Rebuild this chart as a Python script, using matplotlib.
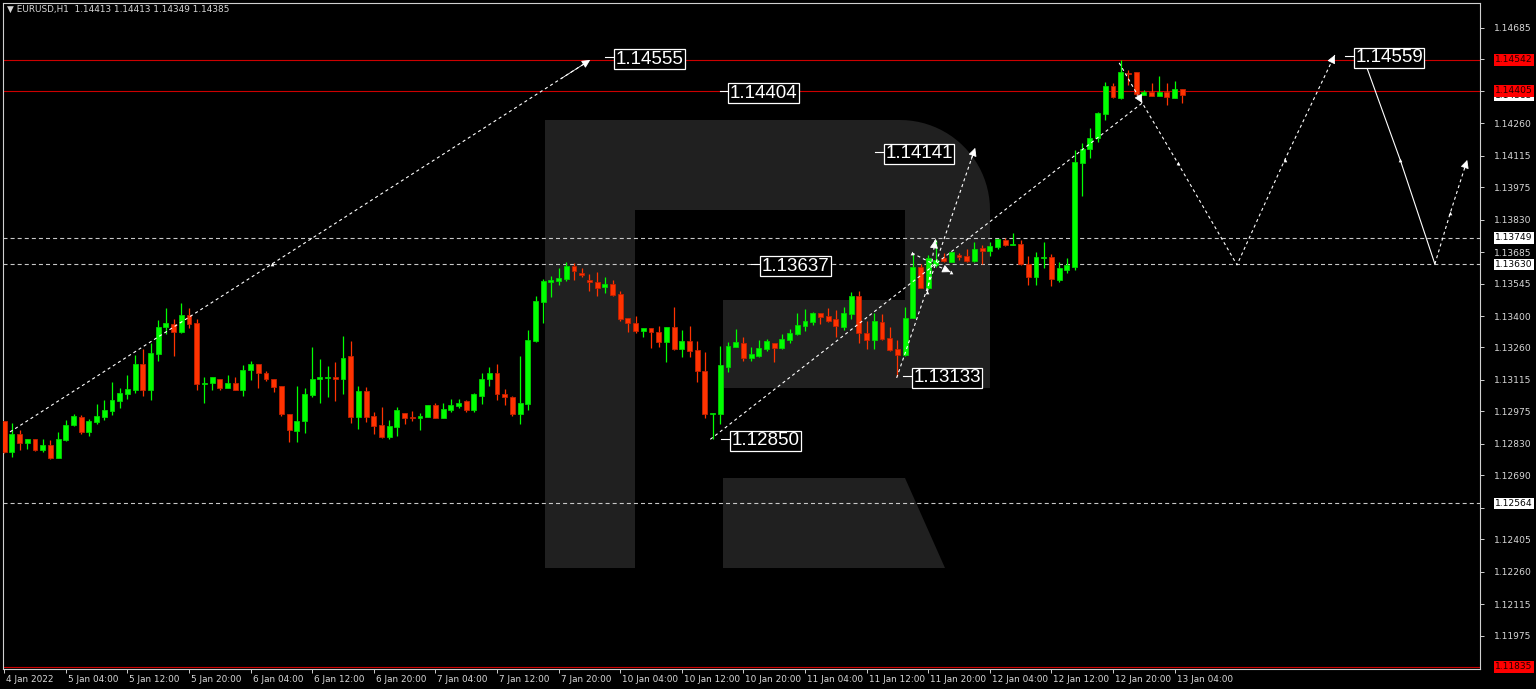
import numpy as np
import matplotlib
matplotlib.use('Agg')
import matplotlib.pyplot as plt
import matplotlib.transforms as mtransforms
from matplotlib.patches import Polygon
from matplotlib import font_manager

plt.rcParams['lines.scale_dashes'] = False

# ---------------- data (EURUSD H1) ----------------
opens = [1.12932, 1.12794, 1.12873, 1.12834, 1.12850, 1.12801, 1.12823, 1.12767, 1.12846, 1.12913,
         1.12950, 1.12883, 1.12928, 1.12950, 1.12977, 1.13022, 1.13054, 1.13072, 1.13185, 1.13072,
         1.13229, 1.13352, 1.13363, 1.13330, 1.13404, 1.13367, 1.13095, 1.13103, 1.13117, 1.13077,
         1.13103, 1.13072, 1.13159, 1.13184, 1.13144, 1.13117, 1.13087, 1.12965, 1.12887, 1.12931,
         1.13047, 1.13117, 1.13124, 1.13127, 1.13117, 1.13221, 1.12950, 1.13066, 1.12954, 1.12913,
         1.12861, 1.12905, 1.12969, 1.12950, 1.12943, 1.12950, 1.13002, 1.12947, 1.12980, 1.12998,
         1.13020, 1.12980, 1.13044, 1.13117, 1.13144, 1.13054, 1.13039, 1.12962, 1.13007, 1.13290,
         1.13464, 1.13553, 1.13558, 1.13564, 1.13621, 1.13591, 1.13561, 1.13550, 1.13528, 1.13543,
         1.13497, 1.13390, 1.13367, 1.13334, 1.13345, 1.13327, 1.13282, 1.13349, 1.13252, 1.13290,
         1.13248, 1.13156, 1.12965, 1.12962, 1.13173, 1.13263, 1.13281, 1.13214, 1.13221, 1.13251,
         1.13278, 1.13256, 1.13293, 1.13320, 1.13355, 1.13372, 1.13412, 1.13402, 1.13385, 1.13349,
         1.13408, 1.13491, 1.13326, 1.13295, 1.13374, 1.13304, 1.13255, 1.13228, 1.13392, 1.13617,
         1.13527, 1.13627, 1.13660, 1.13642, 1.13672, 1.13667, 1.13646, 1.13704, 1.13691, 1.13709,
         1.13739, 1.13716, 1.13721, 1.13631, 1.13575, 1.13660, 1.13661, 1.13560, 1.13605, 1.13619,
         1.14083, 1.14144, 1.14192, 1.14301, 1.14428, 1.14374, 1.14486, 1.14487, 1.14386, 1.14401,
         1.14383, 1.14401, 1.14374, 1.14413]
highs = [1.12932, 1.12925, 1.12890, 1.12853, 1.12853, 1.12853, 1.12849, 1.12881, 1.12938, 1.12962,
         1.12957, 1.12940, 1.13007, 1.13025, 1.13105, 1.13080, 1.13135, 1.13226, 1.13255, 1.13281,
         1.13381, 1.13436, 1.13387, 1.13458, 1.13437, 1.13387, 1.13127, 1.13126, 1.13121, 1.13135,
         1.13127, 1.13181, 1.13199, 1.13184, 1.13156, 1.13117, 1.13087, 1.12965, 1.13089, 1.13080,
         1.13264, 1.13208, 1.13179, 1.13194, 1.13311, 1.13290, 1.13089, 1.13084, 1.12972, 1.12995,
         1.12938, 1.12995, 1.12969, 1.12975, 1.12969, 1.13002, 1.13010, 1.13010, 1.13029, 1.13029,
         1.13025, 1.13057, 1.13148, 1.13171, 1.13185, 1.13074, 1.13044, 1.13221, 1.13337, 1.13489,
         1.13565, 1.13580, 1.13613, 1.13640, 1.13635, 1.13613, 1.13588, 1.13595, 1.13573, 1.13561,
         1.13513, 1.13390, 1.13401, 1.13345, 1.13345, 1.13355, 1.13352, 1.13440, 1.13337, 1.13355,
         1.13290, 1.13241, 1.12969, 1.13267, 1.13282, 1.13342, 1.13305, 1.13263, 1.13293, 1.13297,
         1.13278, 1.13320, 1.13342, 1.13412, 1.13431, 1.13416, 1.13412, 1.13436, 1.13427, 1.13439,
         1.13509, 1.13513, 1.13378, 1.13414, 1.13411, 1.13349, 1.13292, 1.13441, 1.13675, 1.13632,
         1.13672, 1.13739, 1.13679, 1.13687, 1.13679, 1.13701, 1.13728, 1.13716, 1.13728, 1.13742,
         1.13746, 1.13771, 1.13739, 1.13667, 1.13687, 1.13730, 1.13675, 1.13642, 1.13660, 1.14140,
         1.14170, 1.14237, 1.14311, 1.14442, 1.14441, 1.14542, 1.14498, 1.14490, 1.14408, 1.14438,
         1.14471, 1.14438, 1.14448, 1.14413]
lows = [1.12791, 1.12771, 1.12801, 1.12805, 1.12798, 1.12794, 1.12762, 1.12767, 1.12843, 1.12908,
        1.12876, 1.12865, 1.12920, 1.12938, 1.12959, 1.12990, 1.13032, 1.13057, 1.13042, 1.13025,
        1.13200, 1.13320, 1.13223, 1.13325, 1.13348, 1.13072, 1.13013, 1.13072, 1.13068, 1.13077,
        1.13068, 1.13042, 1.13114, 1.13077, 1.13109, 1.13062, 1.12953, 1.12838, 1.12838, 1.12878,
        1.13039, 1.13013, 1.13039, 1.13020, 1.13054, 1.12923, 1.12896, 1.12926, 1.12876, 1.12856,
        1.12852, 1.12865, 1.12920, 1.12932, 1.12890, 1.12950, 1.12943, 1.12947, 1.12972, 1.12992,
        1.12972, 1.12972, 1.13007, 1.13089, 1.13025, 1.13002, 1.12954, 1.12917, 1.12980, 1.13285,
        1.13370, 1.13483, 1.13539, 1.13558, 1.13561, 1.13576, 1.13513, 1.13489, 1.13504, 1.13489,
        1.13378, 1.13330, 1.13323, 1.13308, 1.13258, 1.13260, 1.13196, 1.13248, 1.13218, 1.13215,
        1.13106, 1.12943, 1.12850, 1.12920, 1.13151, 1.13263, 1.13199, 1.13199, 1.13215, 1.13244,
        1.13196, 1.13253, 1.13278, 1.13315, 1.13335, 1.13360, 1.13364, 1.13372, 1.13308, 1.13338,
        1.13385, 1.13278, 1.13255, 1.13252, 1.13292, 1.13243, 1.13133, 1.13220, 1.13389, 1.13523,
        1.13520, 1.13620, 1.13639, 1.13642, 1.13650, 1.13642, 1.13642, 1.13631, 1.13667, 1.13701,
        1.13713, 1.13716, 1.13627, 1.13538, 1.13538, 1.13612, 1.13533, 1.13553, 1.13590, 1.13604,
        1.13934, 1.14106, 1.14177, 1.14274, 1.14371, 1.14366, 1.14431, 1.14386, 1.14386, 1.14381,
        1.14381, 1.14341, 1.14371, 1.14349]
closes = [1.12794, 1.12876, 1.12834, 1.12853, 1.12801, 1.12823, 1.12767, 1.12850, 1.12916, 1.12954,
          1.12883, 1.12932, 1.12953, 1.12980, 1.13025, 1.13057, 1.13074, 1.13185, 1.13072, 1.13233,
          1.13349, 1.13367, 1.13330, 1.13404, 1.13366, 1.13095, 1.13103, 1.13126, 1.13081, 1.13103,
          1.13072, 1.13161, 1.13184, 1.13147, 1.13117, 1.13084, 1.12965, 1.12890, 1.12932, 1.13050,
          1.13118, 1.13126, 1.13127, 1.13117, 1.13214, 1.12950, 1.13066, 1.12950, 1.12910, 1.12861,
          1.12908, 1.12980, 1.12947, 1.12943, 1.12954, 1.13002, 1.12946, 1.12984, 1.13002, 1.13014,
          1.12980, 1.13050, 1.13118, 1.13144, 1.13054, 1.13039, 1.12962, 1.13010, 1.13293, 1.13467,
          1.13558, 1.13561, 1.13571, 1.13621, 1.13601, 1.13583, 1.13550, 1.13527, 1.13545, 1.13494,
          1.13385, 1.13367, 1.13334, 1.13345, 1.13327, 1.13282, 1.13349, 1.13255, 1.13290, 1.13245,
          1.13156, 1.12962, 1.12969, 1.13181, 1.13267, 1.13282, 1.13214, 1.13229, 1.13256, 1.13290,
          1.13256, 1.13297, 1.13326, 1.13360, 1.13378, 1.13412, 1.13397, 1.13379, 1.13355, 1.13412,
          1.13491, 1.13326, 1.13295, 1.13378, 1.13299, 1.13250, 1.13228, 1.13392, 1.13617, 1.13527,
          1.13657, 1.13650, 1.13645, 1.13684, 1.13664, 1.13646, 1.13701, 1.13691, 1.13712, 1.13742,
          1.13716, 1.13721, 1.13631, 1.13575, 1.13661, 1.13663, 1.13563, 1.13612, 1.13627, 1.14088,
          1.14147, 1.14195, 1.14304, 1.14428, 1.14375, 1.14487, 1.14480, 1.14389, 1.14401, 1.14383,
          1.14401, 1.14378, 1.14411, 1.14385]

x_tick_pos = [0, 8, 16, 24, 32, 40, 48, 56, 64, 72, 80, 88, 96, 104, 112, 120, 128, 136, 144, 152]
x_tick_labels = ['4 Jan 2022', '5 Jan 04:00', '5 Jan 12:00', '5 Jan 20:00', '6 Jan 04:00',
                 '6 Jan 12:00', '6 Jan 20:00', '7 Jan 04:00', '7 Jan 12:00', '7 Jan 20:00',
                 '10 Jan 04:00', '10 Jan 12:00', '10 Jan 20:00', '11 Jan 04:00', '11 Jan 12:00',
                 '11 Jan 20:00', '12 Jan 04:00', '12 Jan 12:00', '12 Jan 20:00', '13 Jan 04:00']
y_ticks = [1.14685, 1.14545, 1.14405, 1.14260, 1.14115, 1.13975, 1.13830, 1.13685, 1.13545,
           1.13400, 1.13260, 1.13115, 1.12975, 1.12830, 1.12690, 1.12545, 1.12405, 1.12260,
           1.12115, 1.11975]
# tick labels hidden behind the level boxes in the reference
y_hidden = [1.14545, 1.14405, 1.12545]

red_levels = [1.14542, 1.14405, 1.11835]
dotted_levels = [1.13749, 1.13630, 1.12564]
bid_price = 1.14385

# forecast paths (bar index, price)
dashed_paths = [
    ([0.75, 76.1], [1.12883, 1.14542]),
    ([91.7, 147.8, 152.4, 160.1, 166.3, 172.8], [1.12850, 1.14350, 1.14083, 1.13628, 1.14096, 1.14564]),
    ([115.9, 126.1], [1.13124, 1.14150]),
    ([144.8, 147.8], [1.14529, 1.14350]),
    ([185.8, 187.8, 190.0], [1.13632, 1.13860, 1.14096]),
    ([117.9, 120.9, 122.9], [1.13681, 1.13628, 1.13596]),
    ([119.9, 120.9], [1.13507, 1.13739]),
]
solid_paths = [
    ([176.7, 181.3, 185.8], [1.14533, 1.14096, 1.13632]),
]
marker_x = [34.8, 152.4, 166.3, 181.3, 187.8, 117.9, 122.9, 119.9, 120.9]
marker_p = [1.13630, 1.14083, 1.14096, 1.14096, 1.13860, 1.13681, 1.13596, 1.13507, 1.13739]

# price labels on chart
label_text = ['1.14555', '1.14404', '1.14141', '1.13637', '1.13133', '1.12850', '1.14559']
label_x = [79.2, 94.1, 114.3, 98.2, 117.9, 94.3, 175.3]
label_p = [1.14553, 1.14402, 1.14132, 1.13630, 1.13133, 1.12852, 1.14560]

title = '\u25BC EURUSD,H1  1.14413 1.14413 1.14349 1.14385'

# ---------------- figure ----------------
W, H = 1536, 689
fig = plt.figure(figsize=(W / 100, H / 100), dpi=100, facecolor='black')
L_, R_, T_, B_ = 3, 1480, 3, 668.5
ax = fig.add_axes([L_ / W, 1 - B_ / H, (R_ - L_) / W, (B_ - T_) / H], facecolor='black')
ax.set_xlim(-0.16, 191.66)
ax.set_ylim(1.11828, 1.14796)

# watermark (pixel coords, y down)
pix = mtransforms.Affine2D().scale(1 / W, -1 / H).translate(0, 1) + fig.transFigure
t = np.linspace(0, np.pi / 2, 24)
arc = [(900 + 90 * np.sin(a), 210 - 90 * np.cos(a)) for a in t]
outer = [(545, 120)] + arc + [(990, 388), (723, 388), (723, 300), (905, 300), (905, 210),
                              (635, 210), (635, 568), (545, 568)]
wm = '#202020'
ax.add_patch(Polygon(outer, closed=True, transform=pix, fc=wm, ec='none', zorder=0.5))
ax.add_patch(Polygon([(723, 478), (905, 478), (945, 568), (723, 568)], closed=True,
                     transform=pix, fc=wm, ec='none', zorder=0.5))

# horizontal levels
for p in red_levels:
    ax.axhline(p, color='#cc0000', lw=0.8, zorder=2)
for p in dotted_levels:
    ax.axhline(p, color='#c8c8c8', lw=0.8, dashes=(2.9, 2.2), zorder=2)

# candles
o = np.array(opens); c = np.array(closes); h = np.array(highs); l = np.array(lows)
xs = np.arange(len(o))
up = c >= o
fill = np.where(up, '#00ff00', '#ff3300')
edge = np.where(up, '#00d400', '#c42000')
ax.vlines(xs, l, h, colors=fill, lw=0.9, zorder=3)
body_lo = np.minimum(o, c)
body_h = np.maximum(np.abs(c - o), 0.00004)
ax.bar(xs, body_h, bottom=body_lo, width=0.64, color=fill, edgecolor=edge, linewidth=0.6, zorder=4)

# forecast lines
def head(xv, yv):
    x0, y0 = xv[-2], yv[-2]
    x1, y1 = xv[-1], yv[-1]
    xa = x1 - (x1 - x0) * 0.05
    ya = y1 - (y1 - y0) * 0.05
    ax.annotate('', xy=(x1, y1), xytext=(xa, ya),
                arrowprops=dict(arrowstyle='-|>,head_length=0.5,head_width=0.25', color='white',
                                lw=0.6, shrinkA=0, shrinkB=0), zorder=6)

for xv, yv in dashed_paths:
    ax.plot(xv, yv, color='white', lw=0.8, dashes=(2.2, 2.2), zorder=5)
    head(xv, yv)
for xv, yv in solid_paths:
    ax.plot(xv, yv, color='white', lw=0.8, zorder=5)
ax.scatter(marker_x, marker_p, s=7, marker='^', color='white', zorder=6, linewidths=0)

# chart labels
names = {f.name for f in font_manager.fontManager.ttflist}
if 'Liberation Sans Narrow' in names:
    big_font, big_size = 'Liberation Sans Narrow', 16
else:
    big_font, big_size = 'Liberation Sans', 13.5
for s, xv, pv in zip(label_text, label_x, label_p):
    ax.plot([xv - 1.2, xv], [pv, pv], color='white', lw=0.8, zorder=6)
    ax.text(xv + 0.15, pv, s, fontsize=big_size, family=big_font, color='white', va='center_baseline',
            ha='left', zorder=7,
            bbox=dict(boxstyle='square,pad=0.08', fc='black', ec='white', lw=0.9))

# axes styling
for sp in ax.spines.values():
    sp.set_color('#d0d0d0')
    sp.set_linewidth(0.8)
ax.yaxis.tick_right()
ax.set_yticks(y_ticks)
ax.set_yticklabels(['' if v in y_hidden else f'{v:.5f}' for v in y_ticks])
ax.tick_params(axis='y', colors='#d0d0d0', labelsize=6.6, length=3, width=0.7, pad=7,
               labelcolor='#d8d8d8')
ax.set_xticks(x_tick_pos)
ax.set_xticklabels(x_tick_labels)
ax.tick_params(axis='x', colors='#d0d0d0', labelsize=6.4, length=3, width=0.7, pad=1.5,
               labelcolor='#d8d8d8')
off = mtransforms.ScaledTranslation(2 / 100, 0, fig.dpi_scale_trans)
for lab in ax.get_xticklabels():
    lab.set_ha('left')
    lab.set_transform(lab.get_transform() + off)

# right axis price boxes
bt = mtransforms.blended_transform_factory(ax.transAxes, ax.transData)
bx = 1 + 15 / (R_ - L_)
for p in [bid_price]:
    ax.text(bx, p, f'{p:.5f}', transform=bt, fontsize=6.6, color='black', va='center', ha='left',
            zorder=20, clip_on=False, bbox=dict(boxstyle='square,pad=0.15', fc='white', ec='white', lw=0))
for p in red_levels:
    ax.text(bx, p, f'{p:.5f}', transform=bt, fontsize=6.6, color='#200000', va='center', ha='left',
            zorder=20, clip_on=False, bbox=dict(boxstyle='square,pad=0.15', fc='#ff0000', ec='#ff0000', lw=0))
for p in dotted_levels:
    ax.text(bx, p, f'{p:.5f}', transform=bt, fontsize=6.6, color='black', va='center', ha='left',
            zorder=20, clip_on=False, bbox=dict(boxstyle='square,pad=0.15', fc='white', ec='white', lw=0))

fig.text(7 / W, 1 - 9.5 / H, title, fontsize=6.4, color='#d8d8d8', va='center', ha='left')

fig.savefig('out.png', dpi=100, facecolor='black')
